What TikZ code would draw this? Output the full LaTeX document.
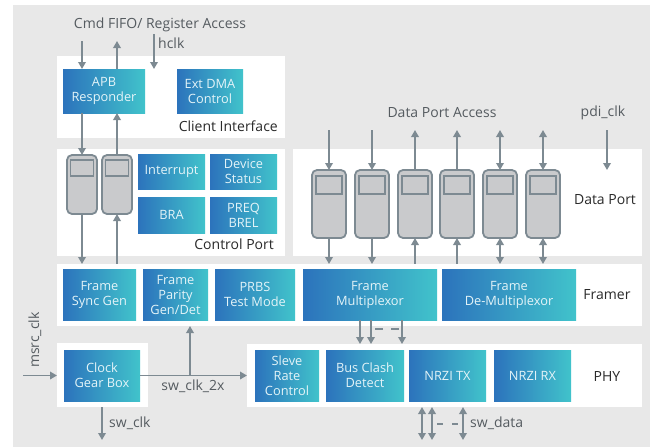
\documentclass[tikz,border=0pt]{standalone}
\usepackage{fontspec}
\setmainfont{Open Sans}
\usetikzlibrary{arrows.meta,positioning}
\definecolor{bggrey}{HTML}{E8E8E8}
\definecolor{blueL}{HTML}{2C73BC}
\definecolor{blueR}{HTML}{41C3CB}
\definecolor{boxtxt}{HTML}{E4F4F8}
\definecolor{arrgrey}{HTML}{7D8A92}
\definecolor{fifofill}{HTML}{C9CACC}
\definecolor{txtgrey}{HTML}{555B60}
\definecolor{txtdark}{HTML}{2A2A2A}
\begin{document}
\begin{tikzpicture}[x=1pt,y=-1pt,font=\fontsize{12.8}{15}\selectfont,
  >={Triangle[length=7pt,width=7.5pt]},
  panel/.style={fill=white,inner sep=0,outer sep=0},
  blk/.style={left color=blueL,right color=blueR,text=boxtxt,align=center,inner sep=0,outer sep=0},
  fifo/.style={draw=arrgrey,fill=fifofill,line width=1.8pt,rounded corners=5pt,inner sep=0,outer sep=0},
  slot/.style={draw=arrgrey,fill=fifofill,line width=1.8pt,inner sep=0,outer sep=0},
  arr/.style={draw=arrgrey,line width=1.8pt,->},
  conn/.style={draw=arrgrey,line width=1.8pt},
  lbl/.style={text=txtgrey,inner sep=0,font=\fontsize{14}{16}\selectfont},
  plbl/.style={text=txtdark,inner sep=0,font=\fontsize{14}{16}\selectfont}]
\useasboundingbox (0,0) rectangle (651,447);
\fill[bggrey] (13,5) rectangle (650,447);

\node[panel,minimum width=228pt,minimum height=82pt] (client) at (171,97) {};
\node[panel,minimum width=228pt,minimum height=107pt] (ctrl) at (171,202.5) {};
\node[panel,minimum width=349pt,minimum height=107pt] (data) at (467.5,202.5) {};
\node[panel,minimum width=585pt,minimum height=62pt] (framer) at (349.5,295) {};
\node[panel,minimum width=91pt,minimum height=64pt] (clk) at (102.5,375) {};
\node[panel,minimum width=395pt,minimum height=63pt] (phy) at (444.5,375.5) {};

\node[blk,minimum width=82pt,minimum height=44pt] (apb) at (104,91) {APB\\Responder};
\node[blk,minimum width=66pt,minimum height=44pt] (extdma) at (210,91) {Ext DMA\\Control};
\node[blk,minimum width=67pt,minimum height=35pt] (intr) at (171.5,171.5) {Interrupt};
\node[blk,minimum width=67pt,minimum height=35pt] (devstat) at (243.5,171.5) {Device\\Status};
\node[blk,minimum width=67pt,minimum height=36pt] (bra) at (171.5,215) {BRA};
\node[blk,minimum width=67pt,minimum height=36pt] (preq) at (243.5,215) {PREQ\\BREL};
\node[blk,minimum width=73pt,minimum height=51pt] (fsync) at (99.5,294.5) {Frame\\Sync Gen};
\node[blk,minimum width=65pt,minimum height=51pt] (fparity) at (175.5,294.5) {Frame\\Parity\\Gen/Det};
\node[blk,minimum width=80pt,minimum height=51pt] (prbs) at (255,294.5) {PRBS\\Test Mode};
\node[blk,minimum width=134pt,minimum height=51pt] (fmux) at (370,294.5) {Frame\\Multiplexor};
\node[blk,minimum width=134pt,minimum height=51pt] (fdemux) at (509,294.5) {Frame\\De-Multiplexor};
\node[blk,minimum width=76pt,minimum height=51pt] (clkgb) at (102,375.5) {Clock\\Gear Box};
\node[blk,minimum width=64pt,minimum height=51pt] (sleve) at (287,375.5) {Sleve\\Rate\\Control};
\node[blk,minimum width=78pt,minimum height=51pt] (busclash) at (365,375.5) {Bus Clash\\Detect};
\node[blk,minimum width=77pt,minimum height=51pt] (nrzitx) at (447.5,375.5) {NRZI TX};
\node[blk,minimum width=77pt,minimum height=51pt] (nrzirx) at (532.5,375.5) {NRZI RX};

\node[fifo,minimum width=30pt,minimum height=59pt] (cf1) at (82,184.5) {};
\node[slot,minimum width=23pt,minimum height=16pt,below=5pt of cf1.north] (cfs1) {};
\node[fifo,minimum width=30pt,minimum height=59pt] (cf2) at (117,184.5) {};
\node[slot,minimum width=23pt,minimum height=16pt,below=5pt of cf2.north] (cfs2) {};
\foreach \x [count=\i] in {329,372,415,457,500,543} {
  \node[fifo,minimum width=34pt,minimum height=68pt] (dp\i) at (\x,204) {};
  \node[slot,minimum width=26pt,minimum height=18pt,below=6pt of dp\i.north] (dps\i) {};
  \coordinate (dt\i) at (\x,130);
  \coordinate (db\i) at (\x,0 |- framer.north);
}

\node[lbl] (cmdlbl) at (160,25) {Cmd FIFO/ Register Access};
\node[lbl,right] (hclklbl) at (158,43) {hclk};
\node[lbl] (dpalbl) at (442,113) {Data Port Access};
\node[lbl] (pdilbl) at (603,113) {pdi\_clk};
\node[lbl,rotate=90] (msrclbl) at (35,340) {msrc\_clk};
\node[lbl] (sw2xlbl) at (193,386) {sw\_clk\_2x};
\node[lbl,right] (swclklbl) at (109,423) {sw\_clk};
\node[lbl,right] (swdatalbl) at (470,423) {sw\_data};
\node[plbl,anchor=east] (clientlbl) at (278,126) {Client Interface};
\node[plbl,anchor=east] (ctrllbl) at (274,244) {Control Port};
\node[plbl] (datalbl) at (605,200) {Data Port};
\node[plbl] (framerlbl) at (607,295) {Framer};
\node[plbl] (phylbl) at (607,376) {PHY};

\coordinate (cmdin) at (82,41);
\coordinate (cmdout) at (117,41);
\coordinate (hclk) at (154,34);
\coordinate (pdiclk) at (607,130);
\draw[arr] (cmdin) -- (cmdin |- apb.north);
\draw[arr,<-] (cmdout) -- (cmdout |- apb.north);
\draw[arr] (hclk) -- (hclk |- apb.north);
\draw[arr] (cmdin |- apb.south) -- (cf1.north);
\draw[arr,<-] (cmdout |- apb.south) -- (cf2.north);
\draw[arr] (cf1.south) -- (cf1.south |- framer.north);
\draw[arr,<-] (cf2.south) -- (cf2.south |- framer.north);
\draw[arr] (pdiclk) -- (pdiclk |- dp1.north);

\foreach \i in {1,2} {
  \draw[arr] (dt\i) -- (dp\i.north);
  \draw[arr] (dp\i.south) -- (db\i);
}
\foreach \i in {3,4} {
  \draw[arr,<-] (dt\i) -- (dp\i.north);
  \draw[arr,<-] (dp\i.south) -- (db\i);
}
\foreach \i in {5,6} {
  \draw[arr,<->] (dt\i) -- (dp\i.north);
  \draw[arr,<->] (dp\i.south) -- (db\i);
}

\foreach \x in {360,371,402} \draw[arr] (\x,0 |- fmux.south) -- (\x,0 |- phy.north);
\draw[conn,dash pattern=on 8pt off 8pt] (375,329) -- (399,329);
\foreach \x in {422,432,463} \draw[arr,<->] (\x,0 |- phy.south) -- (\x,440);
\draw[conn,dash pattern=on 6pt off 9pt] (437,424) -- (458,424);

\coordinate (msrc) at (23,0 |- clkgb);
\coordinate (br) at (190,0 |- clkgb);
\coordinate (swclk) at (102,440);
\draw[arr] (msrc) -- (clk.west |- msrc);
\draw[arr] (clkgb) -- (phy.west |- clkgb);
\draw[arr] (br) -- (br |- framer.south);
\draw[arr] (swclk |- clk.south) -- (swclk);
\end{tikzpicture}
\end{document}
